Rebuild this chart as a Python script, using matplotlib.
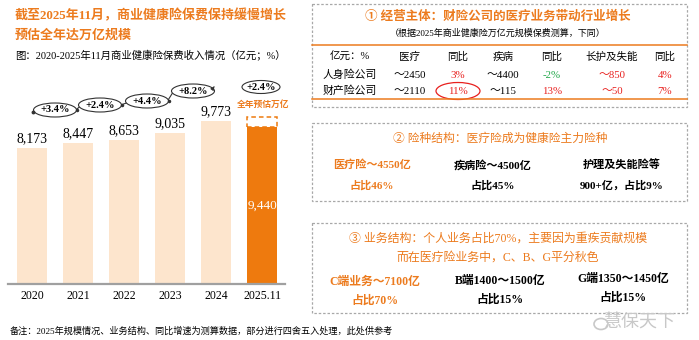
import matplotlib
matplotlib.use('Agg')
import matplotlib.pyplot as plt
from matplotlib.patches import Ellipse, Rectangle, FancyArrowPatch

# ---------------- data ----------------
years = ['2020', '2021', '2022', '2023', '2024', '2025.11']
premiums = [8173, 8447, 8653, 9035, 9773, 9440]
value_labels = ['8,173', '8,447', '8,653', '9,035', '9,773', '9,440']
growth = ['+3.4%', '+2.4%', '+4.4%', '+8.2%']
growth_2025 = '+2.4%'
full_year_est = 10000

table_header = ['亿元：%', '医疗', '同比', '疾病', '同比', '长护及失能', '同比']
table_row1 = ['人身险公司', '～2450', '3%', '～4400', '-2%', '～850', '4%']
table_row2 = ['财产险公司', '～2110', '11%', '～115', '13%', '～50', '7%']

# ---------------- style ----------------
W, H = 699, 340
FAM = ['Liberation Serif', 'Noto Sans CJK SC']
ORANGE = '#EC7B1E'
BAR_DARK = '#EE7A0E'
BAR_LIGHT = '#FDE5CD'
RED = '#E8201E'
GREEN = '#22A84A'

fig = plt.figure(figsize=(W / 100, H / 100), dpi=100)

# ---------------- bar chart ----------------
ax = fig.add_axes([8 / W, 1 - 284 / H, 277 / W, 224 / H])
x = list(range(len(years)))
colors = [BAR_LIGHT] * (len(years) - 1) + [BAR_DARK]
ax.bar(x, premiums, width=0.652, color=colors, zorder=2)
# dashed projection for full year
ax.bar(x[-1], full_year_est - premiums[-1], bottom=premiums[-1], width=0.652,
       fill=False, edgecolor=BAR_DARK, linestyle=(0, (3, 2)), linewidth=1.1, zorder=3)
ax.set_xlim(-0.522, 5.5)
ax.set_ylim(0, 13430)
for s in ['top', 'right', 'left']:
    ax.spines[s].set_visible(False)
ax.spines['bottom'].set_color('#A0A0A0')
ax.spines['bottom'].set_linewidth(1.6)
ax.set_yticks([])
ax.set_xticks(x)
ax.set_xticklabels(years, fontfamily=FAM, fontsize=8.5)
ax.tick_params(axis='x', length=0, pad=4)
for i in range(len(years) - 1):
    ax.annotate(value_labels[i], (x[i], premiums[i]), xytext=(0, 2), textcoords='offset points',
                ha='center', va='bottom', fontsize=10, fontfamily=FAM)
ax.text(x[-1], premiums[-1] / 2, value_labels[-1], ha='center', va='center',
        fontsize=9.5, fontfamily=FAM, color='white')

# ---------------- overlay in pixel coords ----------------
ov = fig.add_axes([0, 0, 1, 1])
ov.set_xlim(0, W)
ov.set_ylim(H, 0)
ov.axis('off')

def t(px, py, s, size=7, color='black', weight='normal', ha='center', va='center', fam=FAM, **kw):
    ov.text(px, py, s, fontsize=size, color=color, fontweight=weight, ha=ha, va=va,
            fontfamily=fam, **kw)

# titles left
t(15, 16, '截至2025年11月，商业健康险保费保持缓慢增长', size=9.35, color=ORANGE, weight='bold', ha='left')
t(15, 36, '预估全年达万亿规模', size=9.35, color=ORANGE, weight='bold', ha='left')
t(15, 56, '图：2020-2025年11月商业健康险保费收入情况（亿元；%）', size=7.5, ha='left')

# growth chain
ell_cx = [55, 100, 147, 193]
ell_cy = [110, 105, 101, 91]
ew, eh = 43, 14
for cx, cy, g in zip(ell_cx, ell_cy, growth):
    ov.add_patch(Ellipse((cx, cy), ew, eh, facecolor='white', edgecolor='#333333', lw=0.8, zorder=5))
    t(cx, cy, g, size=7.5, weight='bold', zorder=6)
# connectors
ov.plot([33], [112], 'o', ms=1.8, color='#333333', zorder=6)
for i in range(len(ell_cx) - 1):
    x0 = ell_cx[i] + ew / 2
    x1 = ell_cx[i + 1] - ew / 2
    ov.plot([x0 - 1, x1 + 1], [ell_cy[i], ell_cy[i + 1] + 2], color='#333333', lw=0.8, zorder=4)
    ov.plot([x0 + 0.5], [ell_cy[i] - 0.5], 'o', ms=1.5, color='#333333', zorder=6)
ov.add_patch(FancyArrowPatch((ell_cx[-1] + ew / 2 - 2, ell_cy[-1] - 2), (216, 84),
                             arrowstyle='-|>', mutation_scale=5, color='#333333', lw=0.8, zorder=6))

# 2025 annotations
ov.add_patch(Ellipse((261, 87), 38, 13, facecolor='white', edgecolor='#333333', lw=0.8, zorder=5))
t(261, 87, growth_2025, size=7.5, weight='bold', zorder=6)
t(263, 105, '全年预估万亿', size=6.3, color=ORANGE, weight='bold')

# footnote
t(10, 331, '备注：2025年规模情况、业务结构、同比增速为测算数据，部分进行四舍五入处理，此处供参考',
  size=6.6, ha='left')

# ---------------- right boxes ----------------
def dbox(x0, y0, x1, y1):
    ov.add_patch(Rectangle((x0, y0), x1 - x0, y1 - y0, fill=False, edgecolor='#A8A8A8',
                           linestyle=(0, (2, 1.5)), lw=0.9))

# box 1
dbox(312, 4, 687, 107)
t(498, 17, '① 经营主体：财险公司的医疗业务带动行业增长', size=9, color=ORANGE, weight='bold')
t(498, 33, '（根据2025年商业健康险万亿元规模保费测算，下同）', size=6.5)
ov.plot([312, 687], [45, 45], color=ORANGE, lw=1.1)
ov.plot([312, 687], [99, 99], color=ORANGE, lw=1.1)
col_x = [350, 410, 458, 503, 552, 612, 665]
for cx, h in zip(col_x, table_header):
    t(cx, 57, h, size=7.6)
row1_colors = ['black', 'black', RED, 'black', GREEN, RED, RED]
row2_colors = ['black', 'black', RED, 'black', RED, RED, RED]
for cx, s, c in zip(col_x, table_row1, row1_colors):
    t(cx, 75, s, size=7.8, color=c)
for cx, s, c in zip(col_x, table_row2, row2_colors):
    t(cx, 91, s, size=7.8, color=c)
ov.add_patch(Ellipse((458, 91), 44, 17, fill=False, edgecolor=RED, lw=0.9))

# box 2
dbox(312, 123, 687, 201)
t(500, 139, '② 险种结构：医疗险成为健康险主力险种', size=8.5, color=ORANGE)
t(372, 165, '医疗险～4550亿', size=8, color=ORANGE, weight='bold')
t(372, 185, '占比46%', size=8, color=ORANGE, weight='bold')
t(493, 165, '疾病险～4500亿', size=8, weight='bold')
t(493, 185, '占比45%', size=8, weight='bold')
t(622, 165, '护理及失能险等', size=8, weight='bold')
t(622, 185, '900+亿，占比9%', size=8, weight='bold')

# box 3
dbox(312, 223, 687, 313)
t(498, 239, '③ 业务结构：个人业务占比70%，主要因为重疾贡献规模', size=8.6, color=ORANGE)
t(498, 258, '而在医疗险业务中，C、B、G平分秋色', size=8.6, color=ORANGE)
t(375, 282, 'C端业务～7100亿', size=8.5, color=ORANGE, weight='bold')
t(375, 301, '占比70%', size=8.5, color=ORANGE, weight='bold')
t(500, 281, 'B端1400～1500亿', size=8.5, weight='bold')
t(500, 300, '占比15%', size=8.5, weight='bold')
t(623, 279, 'G端1350～1450亿', size=8.5, weight='bold')
t(623, 298, '占比15%', size=8.5, weight='bold')

# watermark
t(640, 323, '慧保天下', size=13, color='#C8C8C8', fam=['Noto Sans CJK SC'])
ov.add_patch(Ellipse((601, 324), 14, 11, fill=False, edgecolor='#C8C8C8', lw=1.2))

fig.savefig('out.png', dpi=100)
